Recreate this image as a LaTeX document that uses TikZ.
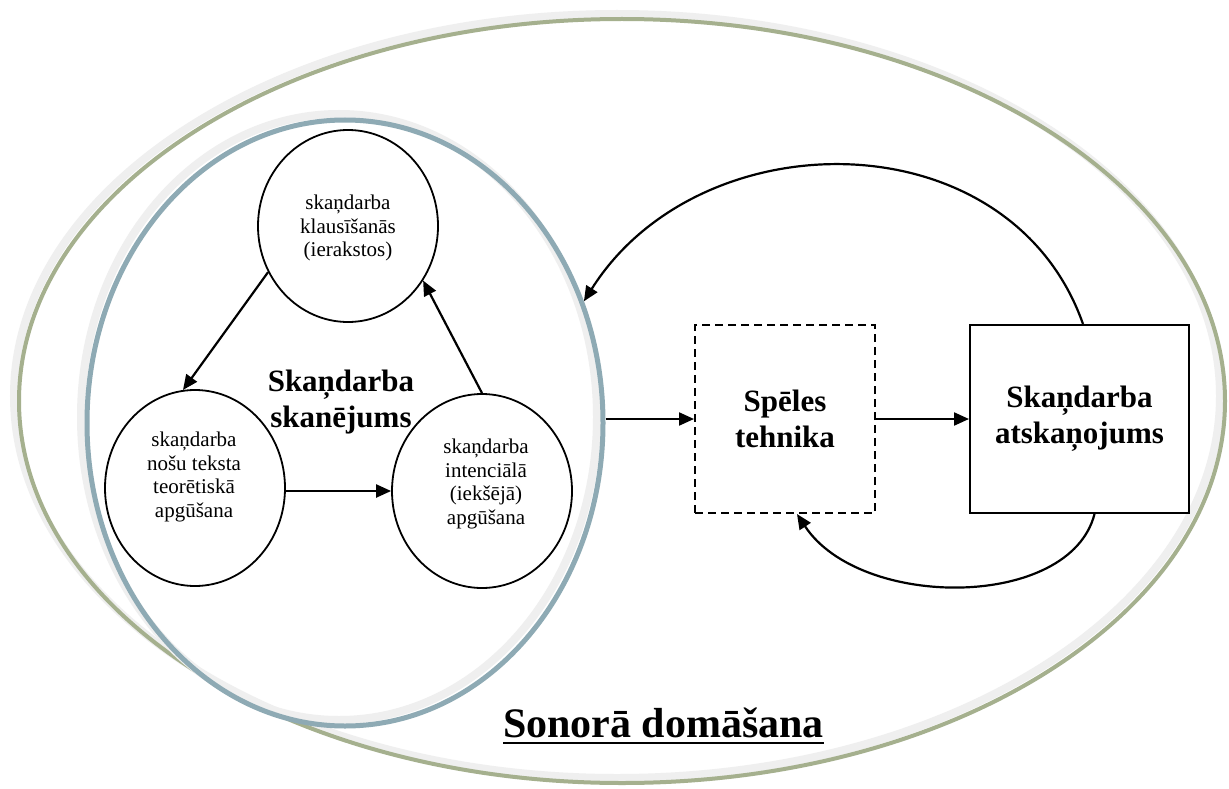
\documentclass[tikz,border=0pt]{standalone}
\usepackage{fontspec}
\setmainfont{Liberation Serif}[BoldFont={Liberation Serif Bold}]
\usetikzlibrary{shapes.geometric,arrows.meta}
\definecolor{bandgray}{HTML}{EFEFEF}
\definecolor{sagegreen}{HTML}{A5B08E}
\definecolor{slateblue}{HTML}{8EAAB4}
% underlined text with a fixed rule below the baseline
\newsavebox{\ulinebox}
\newcommand{\ruledtext}[1]{\sbox{\ulinebox}{#1}\rlap{\usebox{\ulinebox}}\rule[-7.3pt]{\wd\ulinebox}{2.6pt}}

\begin{document}
\begin{tikzpicture}[x=1pt,y=-1pt,
  smalltext/.style={font=\fontsize{21}{23.5}\selectfont, align=center, inner sep=0pt},
  boldtext/.style={font=\fontsize{31}{36}\selectfont\bfseries, align=center, inner sep=0pt},
  stage/.style={ellipse, draw, line width=1.8pt, minimum width=180pt, inner sep=0pt},
  stepbox/.style={draw, line width=2pt, minimum height=188pt, inner sep=0pt,
    font=\fontsize{31}{36}\selectfont\bfseries, align=center},
  flow/.style={line width=2.2pt, -{Triangle[length=15pt,width=13pt]}},
  band/.style={draw=bandgray, line width=8pt}
]
% canvas
\fill[white] (0,0) rectangle (1229,789);
\useasboundingbox (0,0) rectangle (1229,789);

% outer field with its light bevel band
\draw[band] (617,396) ellipse [x radius=603, y radius=382];
\draw[sagegreen, line width=4pt] (622,401) ellipse [x radius=603, y radius=382];

% inner field
\draw[band] (339,417) ellipse [x radius=258, y radius=303];
\node[ellipse, draw=slateblue, line width=5pt, minimum width=516pt,
      minimum height=606pt, inner sep=0pt] (inner) at (345,423) {};

% three stages of learning the piece
\node[stage, minimum height=192pt] (top)   at (348,226) {};
\node[stage, minimum height=196pt] (left)  at (195,488) {};
\node[stage, minimum height=194pt] (right) at (482,491) {};

\node[smalltext] (topText)   at (348,228) {skaņdarba\\klausīšanās\\(ierakstos)};
\node[smalltext] (leftText)  at (194,477) {skaņdarba\\nošu teksta\\teorētiskā\\apgūšana};
\node[smalltext] (rightText) at (486,484) {skaņdarba\\intenciālā\\(iekšējā)\\apgūšana};

\node[boldtext] (sound) at (341,402) {Skaņdarba\\skanējums};

% technique and performance
\node[stepbox, minimum width=180pt, dash pattern=on 8pt off 5pt] (spel) at (785,419) {Spēles\\tehnika};
\node[stepbox, minimum width=219pt] (atsk) at (1079.5,419) {Skaņdarba\\atskaņojums};

% title
\node[font=\fontsize{42}{48}\selectfont\bfseries, anchor=base, inner sep=0pt] (title)
  at (663.5,737) {\ruledtext{Sonorā domāšana}};

% cycle between the stages
\draw[flow] (top.210) -- (left.97);
\draw[flow] (left.east |- right.west) -- (right.west);
\draw[flow] (right.north) -- (top.-36);

% main flow
\draw[flow] (inner.east |- spel.west) -- (spel.west);
\draw[flow] (spel.east) -- (atsk.west);

% feedback loops
\draw[flow] ([xshift=3.5pt]atsk.north) .. controls (1010,117) and (700,117) .. (inner.27);
\draw[flow] ([xshift=15pt]atsk.south) .. controls (1070,610) and (860,610) .. ([xshift=12pt]spel.south);
\end{tikzpicture}
\end{document}
